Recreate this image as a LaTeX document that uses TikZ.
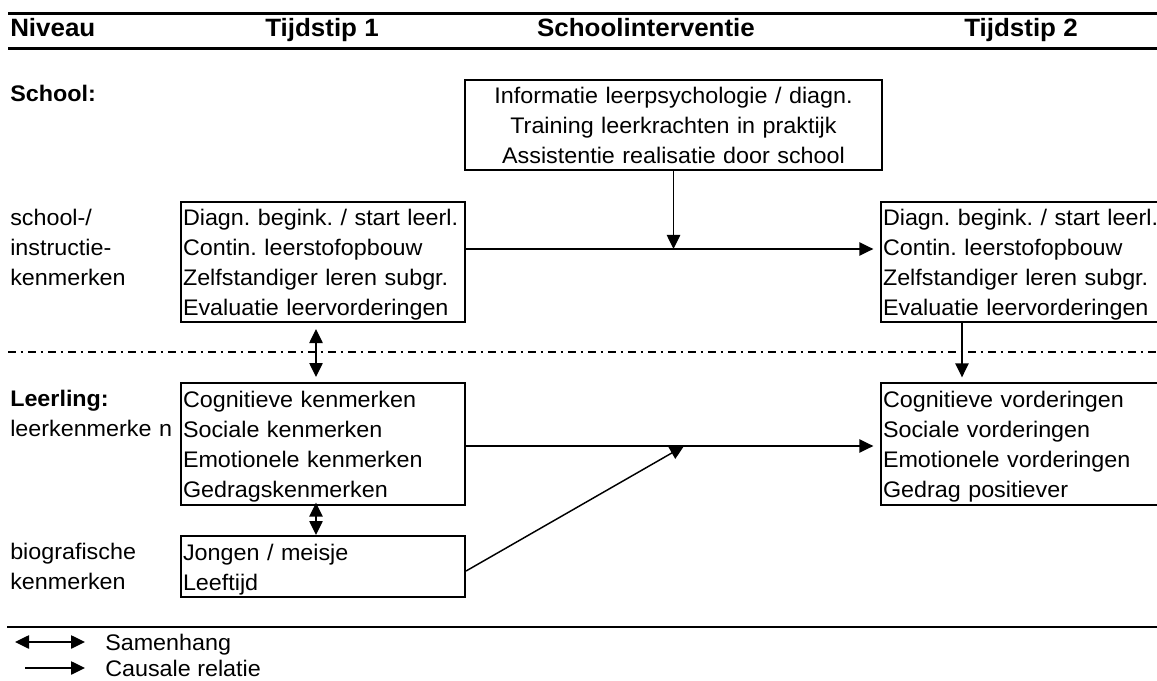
\documentclass[tikz,border=0pt]{standalone}
\usepackage{fontspec}
\setmainfont{Liberation Sans}[FakeStretch=1.035]
\usetikzlibrary{arrows.meta}
\frenchspacing
\begin{document}
\begin{tikzpicture}[x=0.75pt,y=-0.75pt,
 every node/.style={font=\fontsize{16.9pt}{22.5pt}\selectfont\frenchspacing},
 box/.style={draw,line width=1.5pt,rectangle,anchor=north west,inner xsep=1.5pt,inner ysep=0pt,align=left,text height=18pt},
 lbl/.style={anchor=north west,inner xsep=0pt,inner ysep=0pt,align=left,text height=18pt,text width=150pt},
 hdr/.style={font=\fontsize{18.8pt}{22.5pt}\selectfont\bfseries,anchor=base,inner sep=0pt},
 arr/.style={line width=1.1pt,-{Triangle[length=10.5pt,width=10pt]}},
 darr/.style={line width=1.1pt,{Triangle[length=10.5pt,width=10pt]}-{Triangle[length=10.5pt,width=10pt]}},
 rulethick/.style={line width=1.8pt}
]
\clip (0,0) rectangle (1157,681);

% headers
\draw[rulethick] (8,13.5) -- (1160,13.5);
\draw[rulethick] (8,48.5) -- (1160,48.5);
\node[hdr,anchor=base west] (h1) at (10,37) {Niveau};
\node[hdr] (h2) at (322,37) {Tijdstip 1};
\node[hdr] (h3) at (646,37) {Schoolinterventie};
\node[hdr] (h4) at (1021,37) {Tijdstip 2};

% row labels
\node[anchor=base west,inner sep=0pt,font=\fontsize{16.9pt}{22.5pt}\selectfont\bfseries] (sch) at (10,102) {School:};
\node[lbl] (t1) at (10,201) {school-/\\instructie-\\kenmerken};
\node[lbl] (t2) at (10,382) {\textbf{Leerling:}\\leerkenmerke n};
\node[lbl] (t3) at (10,535) {biografische\\kenmerken};

% boxes
\node[box,align=center,text width=309.75pt,minimum width=312.75pt,text depth=49.5pt] (iv) at (464,79)
 {Informatie leerpsychologie / diagn.\\Training leerkrachten in praktijk\\Assistentie realisatie door school};
\node[box,text width=210pt,minimum width=213pt,text depth=72pt] (d1) at (180,201)
 {Diagn. begink. / start leerl.\\Contin. leerstofopbouw\\Zelfstandiger leren subgr.\\Evaluatie leervorderingen};
\node[box,text width=214.5pt,minimum width=217.5pt,text depth=72pt] (d2) at (880,201)
 {Diagn. begink. / start leerl.\\Contin. leerstofopbouw\\Zelfstandiger leren subgr.\\Evaluatie leervorderingen};
\node[box,text width=210pt,minimum width=213pt,text depth=73.5pt] (l1) at (180,382)
 {Cognitieve kenmerken\\Sociale kenmerken\\Emotionele kenmerken\\Gedragskenmerken};
\node[box,text width=214.5pt,minimum width=217.5pt,text depth=73.5pt] (r2) at (880,382)
 {Cognitieve vorderingen\\Sociale vorderingen\\Emotionele vorderingen\\Gedrag positiever};
\node[box,text width=210pt,minimum width=213pt,text depth=27.75pt] (b1) at (180,535)
 {Jongen / meisje\\Leeftijd};

% level separator
\draw[line width=1.1pt,dash pattern=on 6pt off 3.5pt on 2pt off 3.5pt] (8,352) -- (1160,352);

% helper coordinates
\coordinate (j1) at (672.5,249);
\coordinate (j2) at (684,446);
\coordinate (xa) at (316,0);
\coordinate (xb) at (962,0);

% connectors
\draw[arr] (iv.south) -- (iv.south |- j1);
\draw[arr,shorten >=5pt] (d1.east |- j1) -- (d2.west |- j1);
\draw[arr,shorten >=3.5pt] (d2.south -| xb) -- (r2.north -| xb);
\draw[darr,shorten <=4.5pt,shorten >=3.75pt] (d1.south -| xa) -- (l1.north -| xa);
\draw[darr,shorten <=-2.5pt] (l1.south -| xa) -- (b1.north -| xa);
\draw[arr,shorten >=5pt] (l1.east |- j2) -- (r2.west |- j2);
\draw[arr] ([yshift=-3.4pt]b1.east) -- (j2);

% legend
\draw[line width=1.7pt] (7,627) -- (1160,627);
\coordinate (la) at (15,642);
\coordinate (lb) at (85,642);
\coordinate (lc) at (25,668);
\coordinate (ld) at (85,668);
\draw[darr] (la) -- (lb);
\draw[arr] (lc) -- (ld);
\node[anchor=base west,inner sep=0pt] (s1) at (105,650) {Samenhang};
\node[anchor=base west,inner sep=0pt] (s2) at (105,676) {Causale relatie};
\end{tikzpicture}
\end{document}
